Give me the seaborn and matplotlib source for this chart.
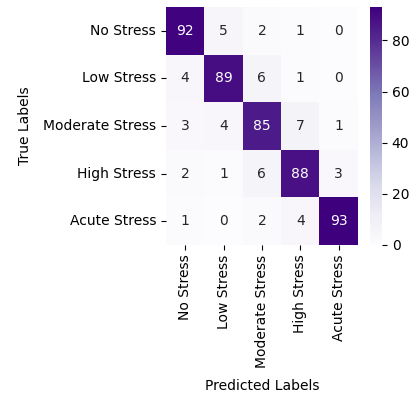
import numpy as np
import matplotlib
matplotlib.use("Agg")
import matplotlib.pyplot as plt
import seaborn as sns

labels = ["No Stress", "Low Stress", "Moderate Stress", "High Stress", "Acute Stress"]
row_no = [92, 5, 2, 1, 0]
row_low = [4, 89, 6, 1, 0]
row_mod = [3, 4, 85, 7, 1]
row_high = [2, 1, 6, 88, 3]
row_acute = [1, 0, 2, 4, 93]

cm = np.array([row_no, row_low, row_mod, row_high, row_acute])

fig = plt.figure(figsize=(4.18, 3.97), dpi=100)
ax = fig.add_axes([0.397, 0.383, 0.459, 0.599])
cax = fig.add_axes([0.885, 0.383, 0.029, 0.599])

sns.heatmap(cm, annot=True, fmt="d", cmap="Purples", ax=ax, cbar_ax=cax,
            xticklabels=labels, yticklabels=labels)
ax.set_xlabel("Predicted Labels", labelpad=8)
ax.set_ylabel("True Labels", labelpad=8)
ax.set_xticklabels(labels, rotation=90)
ax.set_yticklabels(labels, rotation=0)

fig.savefig("out.png", dpi=100)
